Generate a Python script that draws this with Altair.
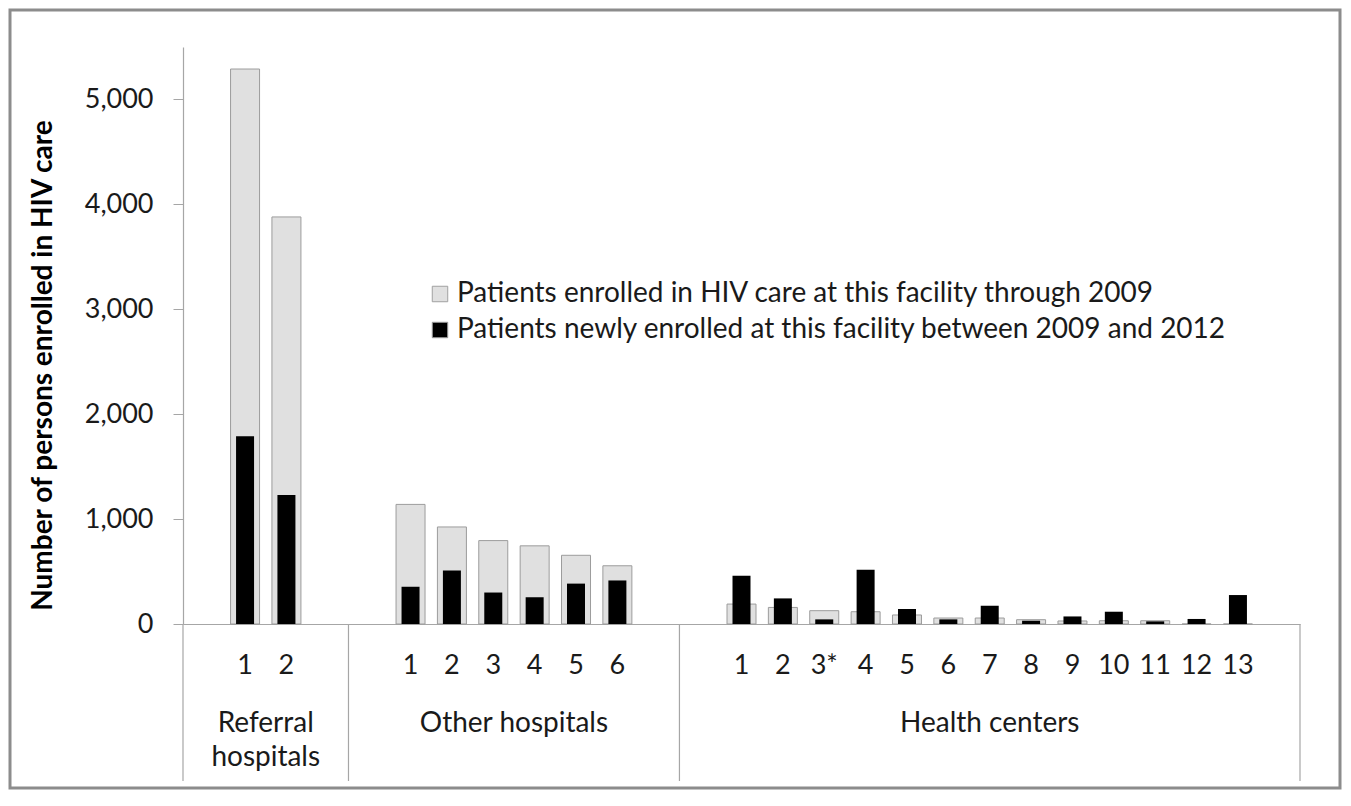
import altair as alt
import pandas as pd

# ---------------- data ----------------
referral_labels = ["1", "2"]
referral_total = [5290, 3880]
referral_new = [1790, 1230]

other_labels = ["1", "2", "3", "4", "5", "6"]
other_total = [1140, 925, 795, 745, 655, 555]
other_new = [355, 510, 300, 255, 385, 415]

hc_labels = ["1", "2", "3*", "4", "5", "6", "7", "8", "9", "10", "11", "12", "13"]
hc_total = [190, 158, 127, 117, 86, 57, 57, 41, 29, 31, 31, 0, 0]
hc_new = [460, 244, 44, 517, 143, 44, 174, 31, 72, 117, 25, 48, 276]

group_names = ["Referral\nhospitals", "Other hospitals", "Health centers"]
y_ticks = [0, 1000, 2000, 3000, 4000, 5000]

S_TOTAL = "Patients enrolled in HIV care at this facility through 2009"
S_NEW = "Patients newly enrolled at this facility between 2009 and 2012"

# ---------------- build tables ----------------
groups = [
    ("R", referral_labels, referral_total, referral_new),
    ("O", other_labels, other_total, other_new),
    ("H", hc_labels, hc_total, hc_new),
]
slots = []
rows = []
for key, labels, tot, new in groups:
    slots.append(f"{key}b0|")
    for lab, t, n in zip(labels, tot, new):
        sid = f"{key}{lab}|{lab}"
        slots.append(sid)
        rows.append({"slot": sid, "series": S_TOTAL, "value": t})
        rows.append({"slot": sid, "series": S_NEW, "value": n})
    slots.append(f"{key}b1|")
df = pd.DataFrame(rows)

W, H = 1117, 577
FONT = "Lato"
TXT = "#1a1a1a"

x_axis = alt.Axis(
    title=None,
    labelExpr="split(datum.value, '|')[1]",
    ticks=False,
    labelAngle=0,
    labelOverlap=False,
    labelFont=FONT,
    labelFontSize=27,
    labelColor=TXT,
    labelBaseline="middle",
    labelPadding=41,
    domainColor="#a6a6a6",
    domainWidth=1.2,
)
x_scale = alt.Scale(domain=slots, paddingInner=0, paddingOuter=0)

y_enc = alt.Y(
    "value:Q",
    scale=alt.Scale(domain=[0, 5500], nice=False),
    axis=alt.Axis(
        values=y_ticks,
        format=",.0f",
        grid=False,
        title="Number of persons enrolled in HIV care",
        titleFont=FONT,
        titleFontSize=28,
        titleFontWeight="bold",
        titleColor="#000000",
        titleAngle=270,
        titleX=-140,
        titleY=318,
        titleAlign="center",
        titleBaseline="middle",
        labelFont=FONT,
        labelFontSize=27,
        labelColor=TXT,
        labelPadding=20,
        tickSize=10,
        tickColor="#a6a6a6",
        domainColor="#a6a6a6",
        domainWidth=1.2,
    ),
)

color_enc = alt.Color(
    "series:N",
    scale=alt.Scale(domain=[S_TOTAL, S_NEW], range=["#e0e0e0", "#000000"]),
    legend=alt.Legend(
        title=None,
        orient="none",
        legendX=243,
        legendY=233,
        padding=0,
        symbolType="square",
        symbolSize=240,
        symbolStrokeColor="#a0a0a0",
        symbolStrokeWidth=1,
        labelFont=FONT,
        labelFontSize=28,
        labelColor=TXT,
        labelOffset=3,
        labelLimit=0,
        rowPadding=8,
    ),
)

base = alt.Chart(df).encode(
    x=alt.X("slot:N", scale=x_scale, axis=x_axis, sort=slots),
    y=y_enc,
    color=color_enc,
)

grey_bars = base.transform_filter(alt.datum.series == S_TOTAL).mark_bar(
    size=29, stroke="#9c9c9c", strokeWidth=1
)
black_bars = base.transform_filter(alt.datum.series == S_NEW).mark_bar(size=18)

# group separators
sep_start = alt.Chart(
    pd.DataFrame({"slot": ["Rb0|", "Ob0|", "Hb0|"]})
).mark_rule(color="#a6a6a6", strokeWidth=1.2).encode(
    x=alt.X("slot:N", scale=x_scale, axis=x_axis, sort=slots, bandPosition=0),
    y=alt.value(H),
    y2=alt.value(H + 157),
)
sep_end = alt.Chart(pd.DataFrame({"slot": ["Hb1|"]})).mark_rule(
    color="#a6a6a6", strokeWidth=1.2
).encode(
    x=alt.X("slot:N", scale=x_scale, axis=x_axis, sort=slots, bandPosition=1),
    y=alt.value(H),
    y2=alt.value(H + 157),
)

# group labels
glab_edge = alt.Chart(
    pd.DataFrame({"slot": ["R2|2", "O4|4"], "name": group_names[:2]})
).mark_text(
    font=FONT, fontSize=28, color=TXT, baseline="top", lineBreak="\n", lineHeight=34
).encode(
    x=alt.X("slot:N", scale=x_scale, axis=x_axis, sort=slots, bandPosition=0),
    y=alt.value(H + 86),
    text="name:N",
)
glab_mid = alt.Chart(
    pd.DataFrame({"slot": ["H7|7"], "name": group_names[2:]})
).mark_text(
    font=FONT, fontSize=28, color=TXT, baseline="top"
).encode(
    x=alt.X("slot:N", scale=x_scale, axis=x_axis, sort=slots),
    y=alt.value(H + 86),
    text="name:N",
)

# outer frame
frame = alt.Chart(alt.Data(values=[{}])).mark_rect(
    filled=False, stroke="#8c8c8c", strokeWidth=3
).encode(
    x=alt.value(-173),
    x2=alt.value(1157),
    y=alt.value(-37),
    y2=alt.value(741),
)

chart = (
    alt.layer(frame, grey_bars, black_bars, sep_start, sep_end, glab_edge, glab_mid)
    .properties(
        width=W,
        height=H,
        autosize=alt.AutoSizeParams(type="none"),
        padding={"left": 175, "top": 39, "right": 43, "bottom": 166},
        background="white",
    )
    .configure_view(stroke=None)
)

chart.save("out.html", embed_options={"renderer": "svg", "actions": False})
